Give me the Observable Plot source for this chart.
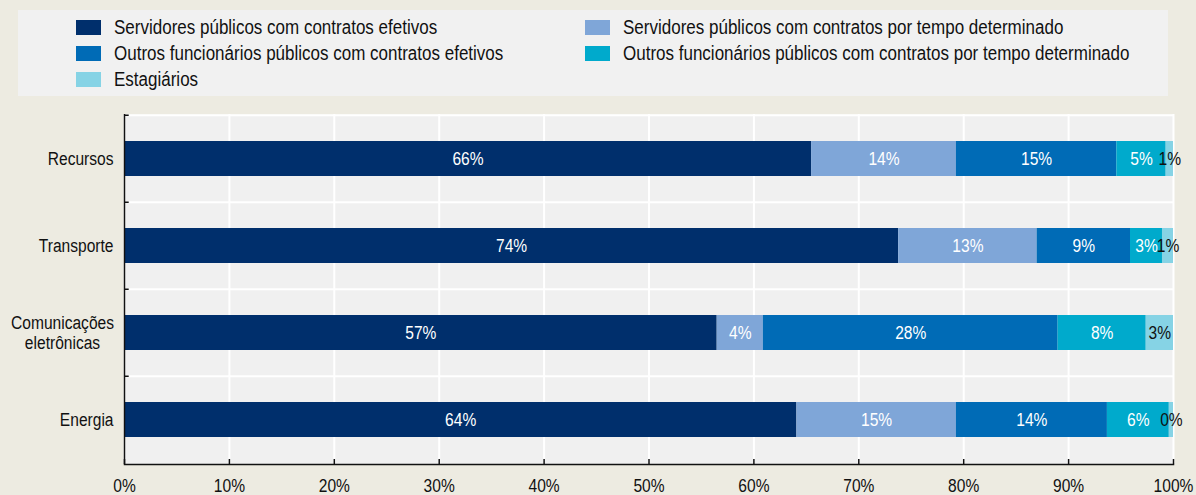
<!DOCTYPE html>
<html>
<head>
<meta charset="utf-8">
<script src="https://cdn.jsdelivr.net/npm/d3@7"></script>
<script src="https://cdn.jsdelivr.net/npm/@observablehq/plot@0.6"></script>
<style>
  html, body { margin: 0; padding: 0; background: #edebe1; }
  #wrap { position: relative; width: 1196px; height: 495px; overflow: hidden; font-family: "Liberation Sans", Arial, sans-serif; }
  #legend { position: absolute; left: 18px; top: 10px; width: 1150px; height: 86px; background: #f1f1f1; }
  .li { position: absolute; display: flex; align-items: center; font-size: 20px; color: #111; white-space: nowrap; height: 20px; }
  .sw { width: 25px; height: 15px; margin-right: 13px; flex: none; }
  .tx { display: inline-block; transform: scaleX(0.85); transform-origin: left center; }
  #chart { position: absolute; left: 0; top: 96px; }
</style>
</head>
<body>
<div id="wrap">
  <div id="legend"></div>
  <div id="chart"></div>
</div>
<script>
const categories = ["Recursos", "Transporte", "Comunicações\neletrônicas", "Energia"];
const series = [
  "Servidores públicos com contratos efetivos",
  "Servidores públicos com contratos por tempo determinado",
  "Outros funcionários públicos com contratos efetivos",
  "Outros funcionários públicos com contratos por tempo determinado",
  "Estagiários"
];
const colors = ["#002f6c", "#7fa6d8", "#006bb6", "#00aacc", "#86d3e5"];
// values per category, in series order (percent)
const recursos     = [65.5, 13.8, 15.3, 4.7, 0.7];
const transporte   = [73.8, 13.2, 8.9, 3.05, 1.05];
const comunicacoes = [56.5, 4.4, 28.1, 8.4, 2.6];
const energia      = [64.1, 15.2, 14.4, 5.9, 0.4];
const xTicks = [0, 10, 20, 30, 40, 50, 60, 70, 80, 90, 100];

const valuesByCat = [recursos, transporte, comunicacoes, energia];
const data = [];
categories.forEach((c, i) => series.forEach((s, j) => data.push({cat: c, series: s, value: valuesByCat[i][j]})));

// legend (HTML)
const legendPos = [
  {left: 58, top: 7}, {left: 567, top: 7},
  {left: 58, top: 33}, {left: 567, top: 33},
  {left: 58, top: 59}
];
const leg = document.getElementById("legend");
series.forEach((s, i) => {
  const d = document.createElement("div");
  d.className = "li";
  d.style.left = legendPos[i].left + "px";
  d.style.top = legendPos[i].top + "px";
  d.innerHTML = `<span class="sw" style="background:${colors[i]}"></span><span class="tx">${s}</span>`;
  leg.appendChild(d);
});

const W = 1196, H = 399, mt = 18, mb = 31, ml = 124, mr = 23;
const step = (H - mt - mb) / categories.length;
const last = series[series.length - 1];
const FS = 19;

const chart = Plot.plot({
  width: W, height: H,
  marginTop: mt, marginBottom: mb, marginLeft: ml, marginRight: mr,
  style: {fontFamily: "'Liberation Sans', Arial, sans-serif", fontSize: FS + "px", background: "transparent", color: "#111"},
  x: {domain: [0, 100]},
  y: {domain: categories, paddingInner: 0.6, paddingOuter: 0.3, axis: null},
  color: {domain: series, range: colors},
  marks: [
    Plot.frame({fill: "#f0f0f0", stroke: null}),
    Plot.ruleX(xTicks, {stroke: "white", strokeWidth: 2}),
    Plot.ruleY(categories, {y: d => d, dy: -step / 2, stroke: "white", strokeWidth: 2}),
    Plot.barX(data, Plot.stackX({y: "cat", x: "value", fill: "series", z: "series", order: series})),
    Plot.text(data, Plot.stackX({y: "cat", x: "value", z: "series", order: series,
      text: d => d.series !== last ? Math.round(d.value) + "%" : null, fill: "white", fontSize: FS})),
    Plot.text(data, Plot.stackX({y: "cat", x: "value", z: "series", order: series,
      text: d => d.series === last ? Math.round(d.value) + "%" : null, fill: "#111", fontSize: FS})),
    Plot.ruleX([0], {stroke: "#111", strokeWidth: 1.5}),
    Plot.frame({anchor: "bottom", stroke: "#111", strokeWidth: 1.5}),
    Plot.link(categories, {x1: 0, x2: 0.4, y1: d => d, y2: d => d, dy: -step / 2, stroke: "#111", strokeWidth: 1.5}),
    Plot.axisX(xTicks, {tickSize: -5, tickPadding: 19, tickFormat: d => d + "%", fontSize: FS, strokeWidth: 1.5, stroke: "#111", label: null}),
    Plot.text(categories.filter(c => !c.includes("\n")), {y: d => d, text: d => d, frameAnchor: "left", dx: -11, textAnchor: "end", fontSize: FS}),
    Plot.text(categories.filter(c => c.includes("\n")), {y: d => d, text: d => d, frameAnchor: "left", dx: -62, textAnchor: "middle", fontSize: FS, lineHeight: 1.05})
  ]
});
// condense glyphs horizontally (narrow sans look)
chart.querySelectorAll("text").forEach(t => {
  const x = +t.getAttribute("x") || 0;
  const tr = t.getAttribute("transform") || "";
  t.setAttribute("transform", `${tr} translate(${x},0) scale(0.82,1) translate(${-x},0)`);
});
document.getElementById("chart").appendChild(chart);
</script>
</body>
</html>
